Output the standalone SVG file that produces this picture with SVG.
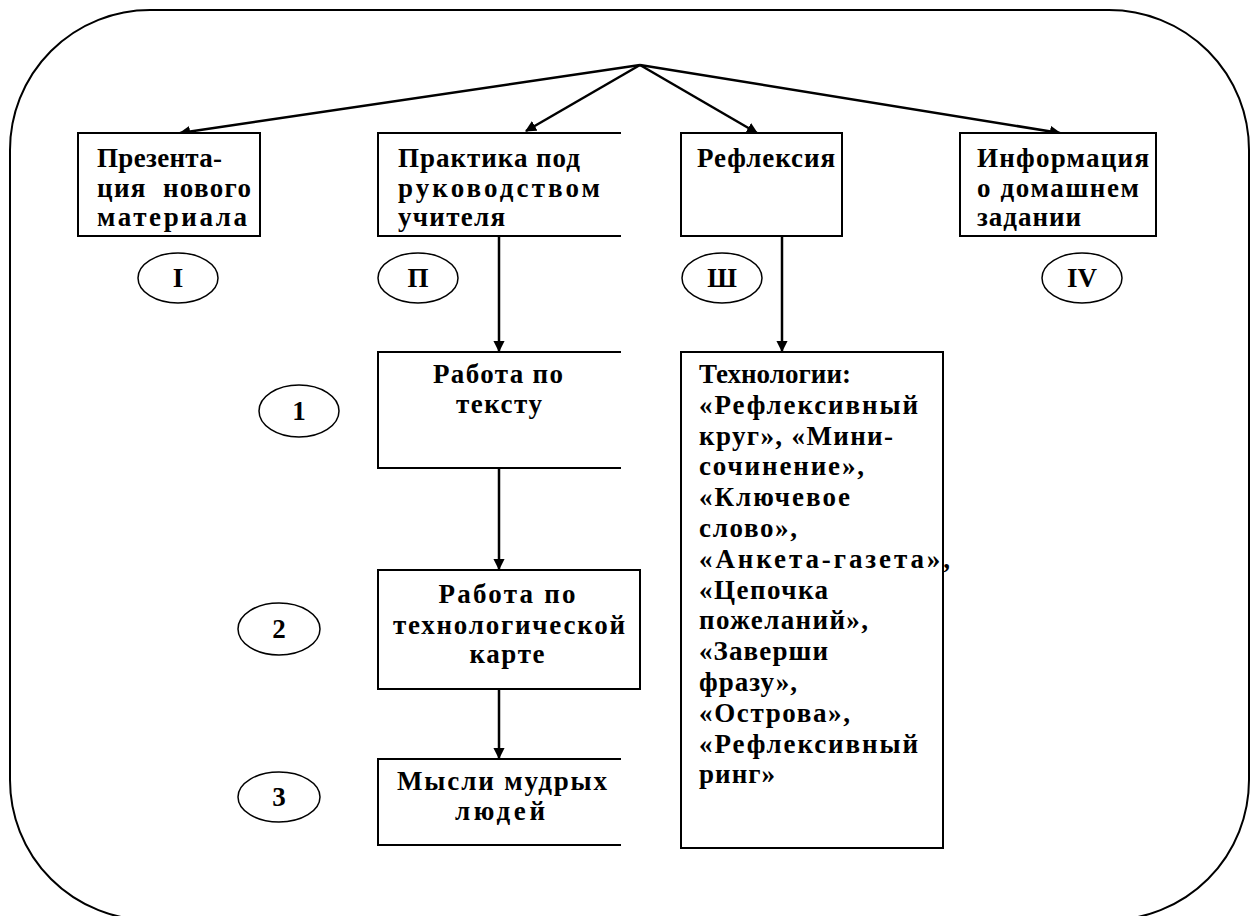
<svg xmlns="http://www.w3.org/2000/svg" width="1252" height="916" viewBox="0 0 1252 916">
<style>
.frame{fill:none;stroke:#000;stroke-width:2}
.box{fill:#fff;stroke:#000;stroke-width:2}
.open{fill:none;stroke:#000;stroke-width:2}
.ell{fill:#fff;stroke:#000;stroke-width:1.5}
.t{font-family:"Liberation Serif","Times New Roman",serif;font-size:27px;font-weight:bold;fill:#000}
.c{text-anchor:middle}
.con{fill:none;stroke:#000;stroke-width:2.5}
</style>
<defs>
<marker id="ah" viewBox="0 0 10 10" refX="9" refY="5" markerWidth="4.5" markerHeight="4.5" markerUnits="strokeWidth" orient="auto">
<path d="M0,0 L10,5 L0,10 z" fill="#000"/>
</marker>
</defs>
<rect class="frame" x="10" y="10" width="1239" height="910" rx="140" ry="140"/>
<g id="connectors">
<line class="con" x1="640" y1="65" x2="180" y2="133" marker-end="url(#ah)"/>
<line class="con" x1="640" y1="65" x2="526" y2="131" marker-end="url(#ah)"/>
<line class="con" x1="640" y1="65" x2="757" y2="133" marker-end="url(#ah)"/>
<line class="con" x1="640" y1="65" x2="1060" y2="133" marker-end="url(#ah)"/>
<line class="con" x1="499" y1="236" x2="499" y2="351" marker-end="url(#ah)"/>
<line class="con" x1="499" y1="468" x2="499" y2="569" marker-end="url(#ah)"/>
<line class="con" x1="499" y1="689" x2="499" y2="758" marker-end="url(#ah)"/>
<line class="con" x1="782" y1="236" x2="782" y2="351" marker-end="url(#ah)"/>
</g>
<g id="n1">
<rect class="box" x="78" y="133" width="182" height="103"/>
<text class="t" x="97" y="167" textLength="125" lengthAdjust="spacing">Презента-</text>
<text class="t" x="97" y="197" xml:space="preserve" textLength="154" lengthAdjust="spacing">ция  нового</text>
<text class="t" x="97" y="226" textLength="150" lengthAdjust="spacing">материала</text>
</g>
<g id="n2">
<path class="open" d="M621,133 H378 V236 H621"/>
<text class="t" x="398" y="167" textLength="182" lengthAdjust="spacing">Практика под</text>
<text class="t" x="398" y="197" textLength="202" lengthAdjust="spacing">руководством</text>
<text class="t" x="398" y="226" textLength="107" lengthAdjust="spacing">учителя</text>
</g>
<g id="n3">
<rect class="box" x="681" y="133" width="161" height="103"/>
<text class="t" x="697" y="167" textLength="138" lengthAdjust="spacing">Рефлексия</text>
</g>
<g id="n4">
<rect class="box" x="960" y="133" width="196" height="103"/>
<text class="t" x="977" y="167" textLength="172" lengthAdjust="spacing">Информация</text>
<text class="t" x="977" y="197" textLength="162" lengthAdjust="spacing">о домашнем</text>
<text class="t" x="977" y="226" textLength="104" lengthAdjust="spacing">задании</text>
</g>
<g id="e1"><ellipse class="ell" cx="178" cy="278" rx="40" ry="25"/><text class="t c" x="178" y="287">I</text></g>
<g id="e2"><ellipse class="ell" cx="418" cy="278" rx="40" ry="25"/><text class="t c" x="418" y="287">П</text></g>
<g id="e3"><ellipse class="ell" cx="722" cy="278" rx="40" ry="25"/><text class="t c" x="722" y="287">Ш</text></g>
<g id="e4"><ellipse class="ell" cx="1082" cy="278" rx="40" ry="25"/><text class="t c" x="1082" y="287">IV</text></g>
<g id="n5">
<path class="open" d="M621,352 H378 V468 H621"/>
<text class="t c" x="498" y="383" textLength="130" lengthAdjust="spacing">Работа по</text>
<text class="t c" x="499" y="413" textLength="86" lengthAdjust="spacing">тексту</text>
</g>
<g id="n6">
<rect class="box" x="378" y="570" width="262" height="119"/>
<text class="t c" x="507" y="603" textLength="137" lengthAdjust="spacing">Работа по</text>
<text class="t c" x="509" y="634" textLength="232" lengthAdjust="spacing">технологической</text>
<text class="t c" x="507" y="663" textLength="75" lengthAdjust="spacing">карте</text>
</g>
<g id="n7">
<path class="open" d="M621,759 H378 V845 H621"/>
<text class="t c" x="502" y="790" textLength="210" lengthAdjust="spacing">Мысли мудрых</text>
<text class="t c" x="500" y="820" textLength="90" lengthAdjust="spacing">людей</text>
</g>
<g id="e5"><ellipse class="ell" cx="299" cy="411" rx="40" ry="26"/><text class="t c" x="299" y="420">1</text></g>
<g id="e6"><ellipse class="ell" cx="279" cy="629" rx="41" ry="26"/><text class="t c" x="279" y="638">2</text></g>
<g id="e7"><ellipse class="ell" cx="279" cy="797" rx="41" ry="25"/><text class="t c" x="279" y="806">3</text></g>
<g id="n8">
<rect class="box" x="681" y="352" width="262" height="496"/>
<text class="t" x="699" y="383" textLength="152" lengthAdjust="spacing">Технологии:</text>
<text class="t" x="699" y="414" textLength="219" lengthAdjust="spacing">«Рефлексивный</text>
<text class="t" x="699" y="445" textLength="194" lengthAdjust="spacing">круг», «Мини-</text>
<text class="t" x="699" y="475" textLength="165" lengthAdjust="spacing">сочинение»,</text>
<text class="t" x="699" y="506" textLength="151" lengthAdjust="spacing">«Ключевое</text>
<text class="t" x="699" y="537" textLength="98" lengthAdjust="spacing">слово»,</text>
<text class="t" x="699" y="568" textLength="251" lengthAdjust="spacing">«Анкета-газета»,</text>
<text class="t" x="699" y="599" textLength="129" lengthAdjust="spacing">«Цепочка</text>
<text class="t" x="699" y="629" textLength="169" lengthAdjust="spacing">пожеланий»,</text>
<text class="t" x="699" y="660" textLength="129" lengthAdjust="spacing">«Заверши</text>
<text class="t" x="699" y="691" textLength="98" lengthAdjust="spacing">фразу»,</text>
<text class="t" x="699" y="722" textLength="151" lengthAdjust="spacing">«Острова»,</text>
<text class="t" x="699" y="753" textLength="219" lengthAdjust="spacing">«Рефлексивный</text>
<text class="t" x="699" y="783" textLength="76" lengthAdjust="spacing">ринг»</text>
</g>
</svg>
